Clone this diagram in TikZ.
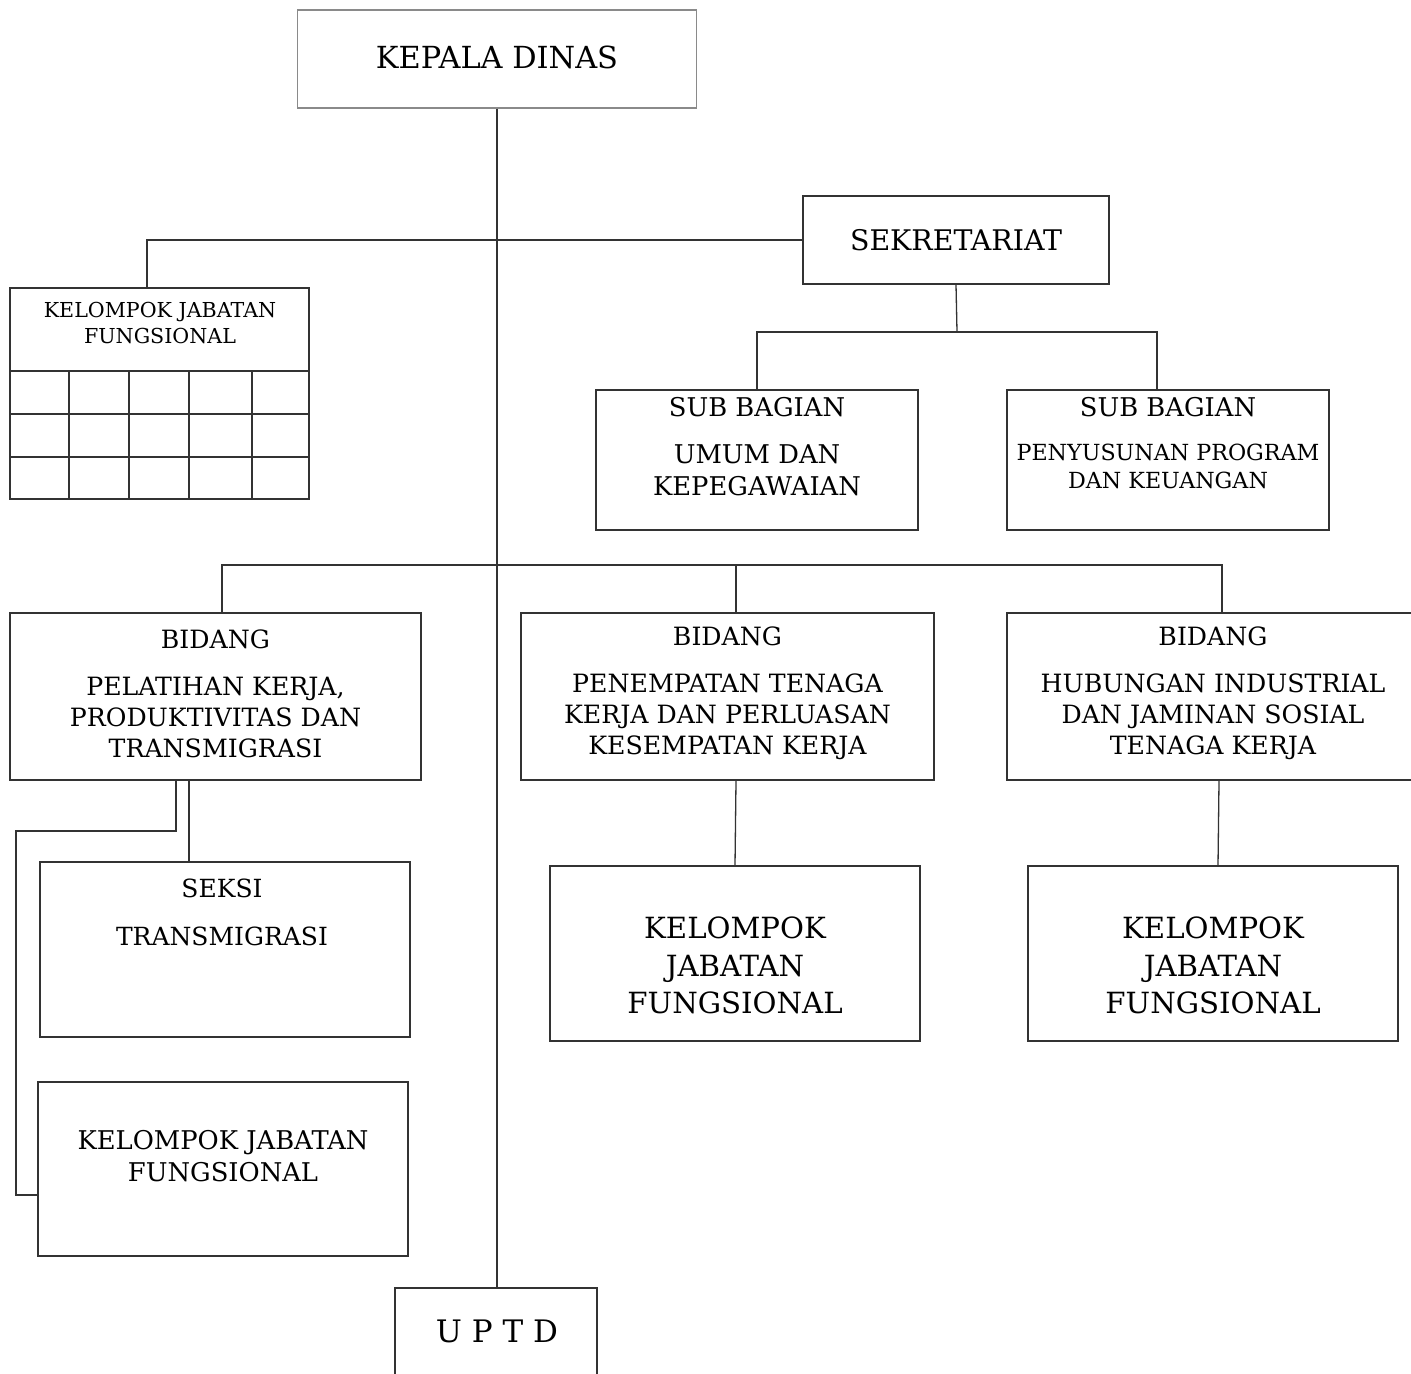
\documentclass[tikz,border=0pt]{standalone}
\usepackage{fontspec}
\setmainfont{DejaVu Serif}
\usetikzlibrary{positioning}
\definecolor{edge}{HTML}{333333}
\definecolor{softedge}{HTML}{8A8A8A}

\begin{document}
\begin{tikzpicture}[x=0.5pt,y=-0.5pt,
 box/.style={draw=edge,line width=0.65pt,inner sep=0pt},
 sz/.style 2 args={minimum width=#1*0.5pt,minimum height=#2*0.5pt},
 lbl/.style={align=center,inner sep=0pt},
 link/.style={draw=edge,line width=0.65pt}]
\clip (0,0) rectangle (1411,1373);
\fill[white] (0,0) rectangle (1411,1373);
% pucuk pimpinan
\node[box,draw=softedge,sz={399}{98}] (kadis) at (497,59) {};
\node[lbl,font=\fontsize{15.2}{18}\selectfont] at (497,57) {KEPALA DINAS};
\node[box,sz={306}{88},font=\fontsize{14.2}{17}\selectfont] (sekre) at (956,240) {SEKRETARIAT};
% kelompok jabatan fungsional (tabel)
\node[box,sz={299}{211}] (kjf1) at (159.5,393.5) {};
\node[lbl,font=\fontsize{10.3}{13}\selectfont] at (160,323) {KELOMPOK JABATAN\\FUNGSIONAL};
\draw[link] (10,371) -- (309,371);
\foreach \y in {414,457} \draw[link] (10,\y) -- (309,\y);
\foreach \x in {69,129,189,252} \draw[link] (\x,371) -- (\x,499);
% sub bagian
\node[box,sz={322}{140}] (sb1) at (757,460) {};
\node[lbl,font=\fontsize{12.9}{16}\selectfont] at (757,446.5) {SUB BAGIAN\\[7.5pt]UMUM DAN\\KEPEGAWAIAN};
\node[box,sz={322}{140}] (sb2) at (1168,460) {};
\node[lbl,font=\fontsize{12.9}{16}\selectfont] at (1168,407) {SUB BAGIAN};
\node[lbl,font=\fontsize{11.1}{14}\selectfont] at (1168,466) {PENYUSUNAN PROGRAM\\DAN KEUANGAN};
% bidang
\node[box,sz={411}{167}] (bid1) at (215.5,696.5) {};
\node[lbl,font=\fontsize{12.6}{15.5}\selectfont] at (215.5,693.5) {BIDANG\\[8pt]PELATIHAN KERJA,\\PRODUKTIVITAS DAN\\TRANSMIGRASI};
\node[box,sz={413}{167}] (bid2) at (727.5,696.5) {};
\node[lbl,font=\fontsize{12.6}{15.5}\selectfont] at (727.5,693.5) {BIDANG\\[8pt]PENEMPATAN TENAGA\\KERJA DAN PERLUASAN\\KESEMPATAN KERJA};
\node[box,sz={413}{167}] (bid3) at (1213.5,696.5) {};
\node[lbl,font=\fontsize{12.6}{15.5}\selectfont] at (1213,693.5) {BIDANG\\[8pt]HUBUNGAN INDUSTRIAL\\DAN JAMINAN SOSIAL\\TENAGA KERJA};
% seksi dan kelompok jabatan
\node[box,sz={370}{175}] (seksi) at (225,949.5) {};
\node[lbl,font=\fontsize{12.5}{16}\selectfont] at (222,912) {SEKSI\\[8pt]TRANSMIGRASI};
\node[box,sz={370}{174}] (kjf2) at (223,1169) {};
\node[lbl,font=\fontsize{12.9}{16}\selectfont] at (223,1156) {KELOMPOK JABATAN\\FUNGSIONAL};
\node[box,sz={370}{175}] (kjf3) at (735,953.5) {};
\node[lbl,font=\fontsize{14.6}{18.7}\selectfont] at (735,965.5) {KELOMPOK\\JABATAN\\FUNGSIONAL};
\node[box,sz={370}{175}] (kjf4) at (1213,953.5) {};
\node[lbl,font=\fontsize{14.6}{18.7}\selectfont] at (1213,965.5) {KELOMPOK\\JABATAN\\FUNGSIONAL};
\node[box,sz={202}{104}] (uptd) at (496,1340) {};
\node[lbl,font=\fontsize{15.5}{18}\selectfont] at (497,1331) {U P T D};
% garis komando
\coordinate (sekbus) at (957,332);
\coordinate (bidbus) at (497,565);
\coordinate (lp) at (16,831);
\draw[link] (kadis.south) -- (uptd.north -| kadis.south);
\draw[link] ([xshift=-6.25pt]kjf1.north) |- (sekre.west);
\draw[link] (sekre.south) -- (sekbus);
\draw[link] (sb1.north) |- (sekbus) -| ([xshift=-5.5pt]sb2.north);
\draw[link] ([xshift=3.25pt]bid1.north) |- (bidbus) -| ([xshift=4.25pt]bid3.north);
\draw[link] ([xshift=4.25pt]bid2.north) -- ([xshift=4.25pt]bid2.north |- bidbus);
\draw[link] ([xshift=-13.25pt]bid1.south) -- ([xshift=-13.25pt]bid1.south |- seksi.north);
\draw[link] ([xshift=-19.75pt]bid1.south) |- (lp) |- ([yshift=-13pt]kjf2.west);
\draw[link] ([xshift=4.25pt]bid2.south) -- (kjf3.north);
\draw[link] ([xshift=2.75pt]bid3.south) -- ([xshift=2.5pt]kjf4.north);
\end{tikzpicture}
\end{document}
